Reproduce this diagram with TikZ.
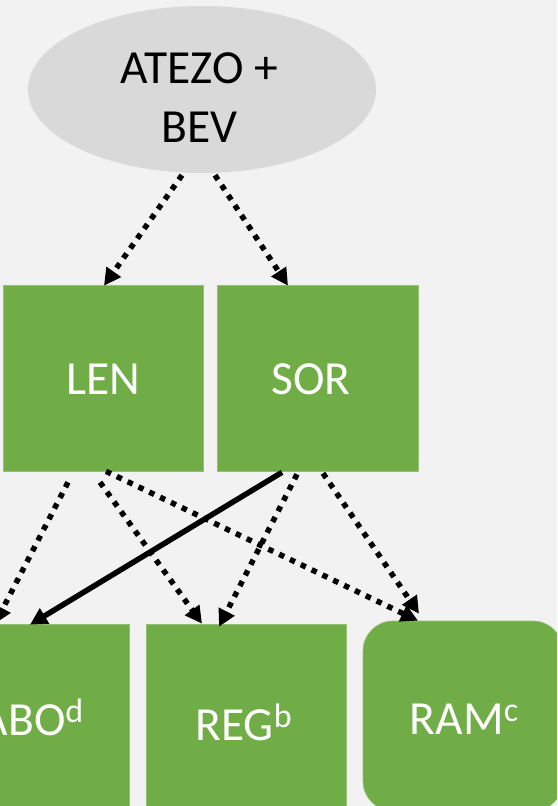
\documentclass[tikz,border=0pt]{standalone}
\usepackage{fontspec}
\setmainfont{Carlito}
\usetikzlibrary{shapes.geometric,arrows.meta,calc}
\definecolor{bgc}{HTML}{F2F2F2}
\definecolor{ellc}{HTML}{D9D9D9}
\definecolor{grn}{HTML}{70AD47}
\newcommand{\supx}[1]{\raisebox{12.5pt}{\fontsize{34}{34}\selectfont #1}}
\begin{document}
\begin{tikzpicture}[x=1pt,y=-1pt,
  gbox/.style={rectangle,fill=grn,draw=grn!75!white,line width=0.6pt,inner sep=0pt},
  btxt/.style={font=\fontsize{47.5}{57}\selectfont,text=white,inner sep=0pt,anchor=base},
  dotarrow/.style={line width=5.5pt,dash pattern=on 5.5pt off 6.5pt,-{Triangle[length=17pt,width=17pt]}},
  solidarrow/.style={line width=5.5pt,-{Triangle[length=17pt,width=17pt]}}]
\useasboundingbox (0,0) rectangle (557,806);
\clip (0,0) rectangle (557,806);
\fill[bgc] (0,0) rectangle (557,806);
% top ellipse
\node[ellipse,fill=ellc,minimum width=348pt,minimum height=167pt,inner sep=0pt] (atezo) at (202,89.5) {};
\node[font=\fontsize{47.5}{59}\selectfont,align=center,inner sep=0pt] (atezotxt) at (199.5,98) {ATEZO +\\BEV};
% middle boxes
\node[gbox,minimum width=200pt,minimum height=186pt] (LEN) at (103,378) {};
\node[gbox,minimum width=201pt,minimum height=186pt] (SOR) at (317.5,378) {};
\node[btxt] (LENt) at (103,394) {LEN};
\node[btxt] (SORt) at (311,394) {SOR};
% bottom boxes
\node[gbox,minimum width=200pt,minimum height=200pt] (ABO) at (29,724) {};
\node[gbox,minimum width=200pt,minimum height=200pt] (REG) at (246,724) {};
\node[gbox,rounded corners=30pt,minimum width=200pt,minimum height=190pt] (RAM) at (463,716) {};
\node[btxt] (ABOt) at (32,735) {ABO\supx{d}};
\node[btxt] (REGt) at (243.5,740) {REG\supx{b}};
\node[btxt] (RAMt) at (464,734) {RAM\supx{c}};
% connectors
\draw[dotarrow] ($(atezo.south)+(-20,2)$) -- ($(LEN.north)+(1,1)$);
\draw[dotarrow] ($(atezo.south)+(13,2)$) -- ($(SOR.north)+(-29.5,1)$);
\draw[dotarrow] ($(LEN.south)+(-35,11)$) -- ($(ABO.north)+(-34,0)$);
\draw[dotarrow] ($(LEN.south)+(-3,11)$) -- ($(REG.north)+(-44,0)$);
\draw[dotarrow] ($(LEN.south)+(3,0)$) -- ($(RAM.north)+(-45,0)$);
\draw[dotarrow] ($(SOR.south)+(-20.5,3)$) -- ($(REG.north)+(-27,3)$);
\draw[dotarrow] ($(SOR.south)+(5.5,2)$) -- ($(RAM.north)+(-44,-7)$);
\draw[solidarrow] ($(SOR.south)+(-35.5,1)$) -- ($(ABO.north)+(1,1)$);
\end{tikzpicture}
\end{document}
